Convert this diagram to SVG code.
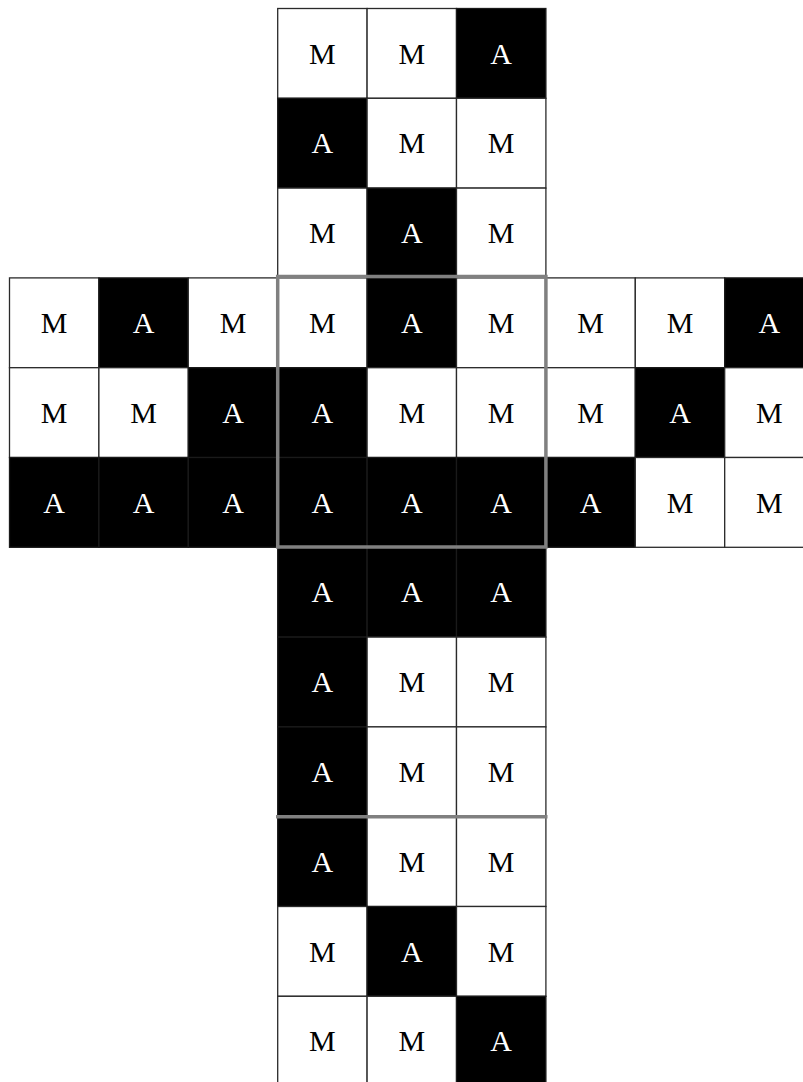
<svg xmlns="http://www.w3.org/2000/svg" width="803" height="1082" viewBox="0 0 803 1082">
<style>
.w{fill:#fff;stroke:#2a2a2a;stroke-width:1.3}
.b{fill:#000;stroke:#1a1a1a;stroke-width:1.3}
.tm{font-family:"Liberation Serif","Times New Roman",serif;font-size:30px;text-anchor:middle;fill:#000}
.ta{font-family:"Liberation Serif","Times New Roman",serif;font-size:30px;text-anchor:middle;fill:#fff}
.fr{fill:none;stroke:#808080;stroke-width:3.5}
</style>
<rect width="803" height="1082" fill="#fff"/>
<g id="top-face">
<g id="c0-3"><rect class="w" x="277.7" y="8.5" width="89.4" height="89.8"/><text class="tm" x="322.4" y="63.6">M</text></g>
<g id="c0-4"><rect class="w" x="367.1" y="8.5" width="89.4" height="89.8"/><text class="tm" x="411.8" y="63.6">M</text></g>
<g id="c0-5"><rect class="b" x="456.5" y="8.5" width="89.4" height="89.8"/><text class="ta" x="501.2" y="63.6">A</text></g>
<g id="c1-3"><rect class="b" x="277.7" y="98.3" width="89.4" height="89.8"/><text class="ta" x="322.4" y="153.4">A</text></g>
<g id="c1-4"><rect class="w" x="367.1" y="98.3" width="89.4" height="89.8"/><text class="tm" x="411.8" y="153.4">M</text></g>
<g id="c1-5"><rect class="w" x="456.5" y="98.3" width="89.4" height="89.8"/><text class="tm" x="501.2" y="153.4">M</text></g>
<g id="c2-3"><rect class="w" x="277.7" y="188.1" width="89.4" height="89.8"/><text class="tm" x="322.4" y="243.2">M</text></g>
<g id="c2-4"><rect class="b" x="367.1" y="188.1" width="89.4" height="89.8"/><text class="ta" x="411.8" y="243.2">A</text></g>
<g id="c2-5"><rect class="w" x="456.5" y="188.1" width="89.4" height="89.8"/><text class="tm" x="501.2" y="243.2">M</text></g>
</g>
<g id="middle-band">
<g id="c3-0"><rect class="w" x="9.5" y="277.9" width="89.4" height="89.8"/><text class="tm" x="54.2" y="333">M</text></g>
<g id="c3-1"><rect class="b" x="98.9" y="277.9" width="89.4" height="89.8"/><text class="ta" x="143.6" y="333">A</text></g>
<g id="c3-2"><rect class="w" x="188.3" y="277.9" width="89.4" height="89.8"/><text class="tm" x="233" y="333">M</text></g>
<g id="c3-3"><rect class="w" x="277.7" y="277.9" width="89.4" height="89.8"/><text class="tm" x="322.4" y="333">M</text></g>
<g id="c3-4"><rect class="b" x="367.1" y="277.9" width="89.4" height="89.8"/><text class="ta" x="411.8" y="333">A</text></g>
<g id="c3-5"><rect class="w" x="456.5" y="277.9" width="89.4" height="89.8"/><text class="tm" x="501.2" y="333">M</text></g>
<g id="c3-6"><rect class="w" x="545.9" y="277.9" width="89.4" height="89.8"/><text class="tm" x="590.6" y="333">M</text></g>
<g id="c3-7"><rect class="w" x="635.3" y="277.9" width="89.4" height="89.8"/><text class="tm" x="680" y="333">M</text></g>
<g id="c3-8"><rect class="b" x="724.7" y="277.9" width="89.4" height="89.8"/><text class="ta" x="769.4" y="333">A</text></g>
<g id="c4-0"><rect class="w" x="9.5" y="367.7" width="89.4" height="89.8"/><text class="tm" x="54.2" y="422.8">M</text></g>
<g id="c4-1"><rect class="w" x="98.9" y="367.7" width="89.4" height="89.8"/><text class="tm" x="143.6" y="422.8">M</text></g>
<g id="c4-2"><rect class="b" x="188.3" y="367.7" width="89.4" height="89.8"/><text class="ta" x="233" y="422.8">A</text></g>
<g id="c4-3"><rect class="b" x="277.7" y="367.7" width="89.4" height="89.8"/><text class="ta" x="322.4" y="422.8">A</text></g>
<g id="c4-4"><rect class="w" x="367.1" y="367.7" width="89.4" height="89.8"/><text class="tm" x="411.8" y="422.8">M</text></g>
<g id="c4-5"><rect class="w" x="456.5" y="367.7" width="89.4" height="89.8"/><text class="tm" x="501.2" y="422.8">M</text></g>
<g id="c4-6"><rect class="w" x="545.9" y="367.7" width="89.4" height="89.8"/><text class="tm" x="590.6" y="422.8">M</text></g>
<g id="c4-7"><rect class="b" x="635.3" y="367.7" width="89.4" height="89.8"/><text class="ta" x="680" y="422.8">A</text></g>
<g id="c4-8"><rect class="w" x="724.7" y="367.7" width="89.4" height="89.8"/><text class="tm" x="769.4" y="422.8">M</text></g>
<g id="c5-0"><rect class="b" x="9.5" y="457.5" width="89.4" height="89.8"/><text class="ta" x="54.2" y="512.6">A</text></g>
<g id="c5-1"><rect class="b" x="98.9" y="457.5" width="89.4" height="89.8"/><text class="ta" x="143.6" y="512.6">A</text></g>
<g id="c5-2"><rect class="b" x="188.3" y="457.5" width="89.4" height="89.8"/><text class="ta" x="233" y="512.6">A</text></g>
<g id="c5-3"><rect class="b" x="277.7" y="457.5" width="89.4" height="89.8"/><text class="ta" x="322.4" y="512.6">A</text></g>
<g id="c5-4"><rect class="b" x="367.1" y="457.5" width="89.4" height="89.8"/><text class="ta" x="411.8" y="512.6">A</text></g>
<g id="c5-5"><rect class="b" x="456.5" y="457.5" width="89.4" height="89.8"/><text class="ta" x="501.2" y="512.6">A</text></g>
<g id="c5-6"><rect class="b" x="545.9" y="457.5" width="89.4" height="89.8"/><text class="ta" x="590.6" y="512.6">A</text></g>
<g id="c5-7"><rect class="w" x="635.3" y="457.5" width="89.4" height="89.8"/><text class="tm" x="680" y="512.6">M</text></g>
<g id="c5-8"><rect class="w" x="724.7" y="457.5" width="89.4" height="89.8"/><text class="tm" x="769.4" y="512.6">M</text></g>
</g>
<g id="bottom-face">
<g id="c6-3"><rect class="b" x="277.7" y="547.3" width="89.4" height="89.8"/><text class="ta" x="322.4" y="602.4">A</text></g>
<g id="c6-4"><rect class="b" x="367.1" y="547.3" width="89.4" height="89.8"/><text class="ta" x="411.8" y="602.4">A</text></g>
<g id="c6-5"><rect class="b" x="456.5" y="547.3" width="89.4" height="89.8"/><text class="ta" x="501.2" y="602.4">A</text></g>
<g id="c7-3"><rect class="b" x="277.7" y="637.1" width="89.4" height="89.8"/><text class="ta" x="322.4" y="692.2">A</text></g>
<g id="c7-4"><rect class="w" x="367.1" y="637.1" width="89.4" height="89.8"/><text class="tm" x="411.8" y="692.2">M</text></g>
<g id="c7-5"><rect class="w" x="456.5" y="637.1" width="89.4" height="89.8"/><text class="tm" x="501.2" y="692.2">M</text></g>
<g id="c8-3"><rect class="b" x="277.7" y="726.9" width="89.4" height="89.8"/><text class="ta" x="322.4" y="782">A</text></g>
<g id="c8-4"><rect class="w" x="367.1" y="726.9" width="89.4" height="89.8"/><text class="tm" x="411.8" y="782">M</text></g>
<g id="c8-5"><rect class="w" x="456.5" y="726.9" width="89.4" height="89.8"/><text class="tm" x="501.2" y="782">M</text></g>
</g>
<g id="back-face">
<g id="c9-3"><rect class="b" x="277.7" y="816.7" width="89.4" height="89.8"/><text class="ta" x="322.4" y="871.8">A</text></g>
<g id="c9-4"><rect class="w" x="367.1" y="816.7" width="89.4" height="89.8"/><text class="tm" x="411.8" y="871.8">M</text></g>
<g id="c9-5"><rect class="w" x="456.5" y="816.7" width="89.4" height="89.8"/><text class="tm" x="501.2" y="871.8">M</text></g>
<g id="c10-3"><rect class="w" x="277.7" y="906.5" width="89.4" height="89.8"/><text class="tm" x="322.4" y="961.6">M</text></g>
<g id="c10-4"><rect class="b" x="367.1" y="906.5" width="89.4" height="89.8"/><text class="ta" x="411.8" y="961.6">A</text></g>
<g id="c10-5"><rect class="w" x="456.5" y="906.5" width="89.4" height="89.8"/><text class="tm" x="501.2" y="961.6">M</text></g>
<g id="c11-3"><rect class="w" x="277.7" y="996.3" width="89.4" height="89.8"/><text class="tm" x="322.4" y="1051.4">M</text></g>
<g id="c11-4"><rect class="w" x="367.1" y="996.3" width="89.4" height="89.8"/><text class="tm" x="411.8" y="1051.4">M</text></g>
<g id="c11-5"><rect class="b" x="456.5" y="996.3" width="89.4" height="89.8"/><text class="ta" x="501.2" y="1051.4">A</text></g>
</g>
<g id="connectors">
<rect class="fr" x="277.7" y="276.5" width="268.2" height="270.5"/>
<line class="fr" x1="276" y1="816.7" x2="547.5" y2="816.7"/>
</g>
</svg>
